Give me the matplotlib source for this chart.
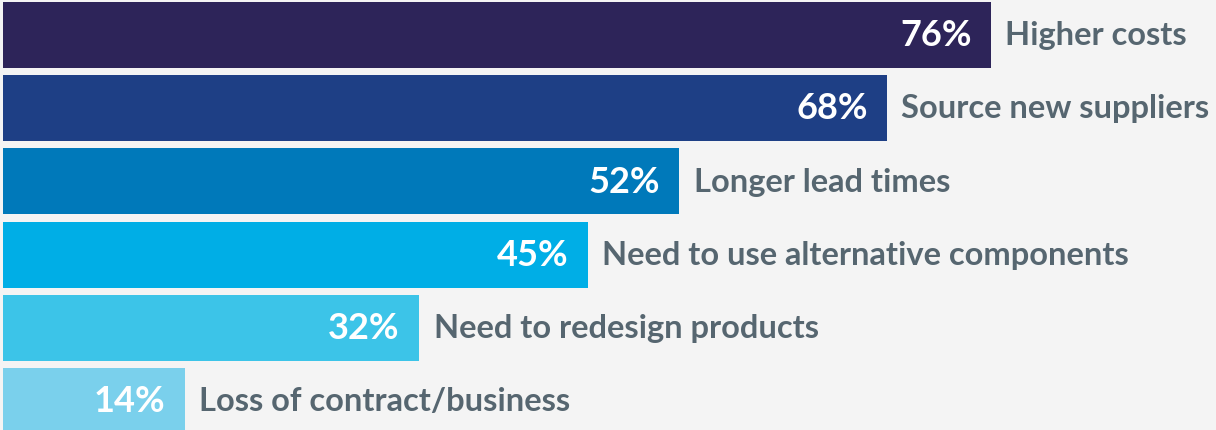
import matplotlib
matplotlib.use("Agg")
import matplotlib.pyplot as plt

categories = [
    "Higher costs",
    "Source new suppliers",
    "Longer lead times",
    "Need to use alternative components",
    "Need to redesign products",
    "Loss of contract/business",
]
values = [76, 68, 52, 45, 32, 14]
bar_colors = ["#2d2459", "#1e3f85", "#0079ba", "#00aee6", "#3cc4e8", "#7ad0ec"]

BG = "#f4f4f4"
TEXT = "#566670"

W, H, DPI = 1216, 430, 100
fig = plt.figure(figsize=(W / DPI, H / DPI), dpi=DPI, facecolor=BG)
ax = fig.add_axes([0, 0, 1, 1], facecolor=BG)

px_per_unit = 13.0
x0_px = 3.5
row_px = 73.2
top_center_px = 35.0

ax.set_xlim(-x0_px / px_per_unit, (W - x0_px) / px_per_unit)
ax.set_ylim((H - top_center_px) / row_px, -top_center_px / row_px)

ypos = list(range(len(categories)))
ax.barh(ypos, values, height=66 / row_px, color=bar_colors, edgecolor="none")

pad_in = 20 / px_per_unit
pad_out = 14 / px_per_unit
for y, v, label in zip(ypos, values, categories):
    ax.text(v - pad_in, y + 0.01, f"{v}%", ha="right", va="center",
            color="white", fontsize=26, fontweight="bold", family="Lato")
    ax.text(v + pad_out, y + 0.01, label, ha="left", va="center",
            color=TEXT, fontsize=23.5, fontweight="bold", family="Lato")

ax.axis("off")
fig.savefig("out.png", dpi=DPI, facecolor=BG)
